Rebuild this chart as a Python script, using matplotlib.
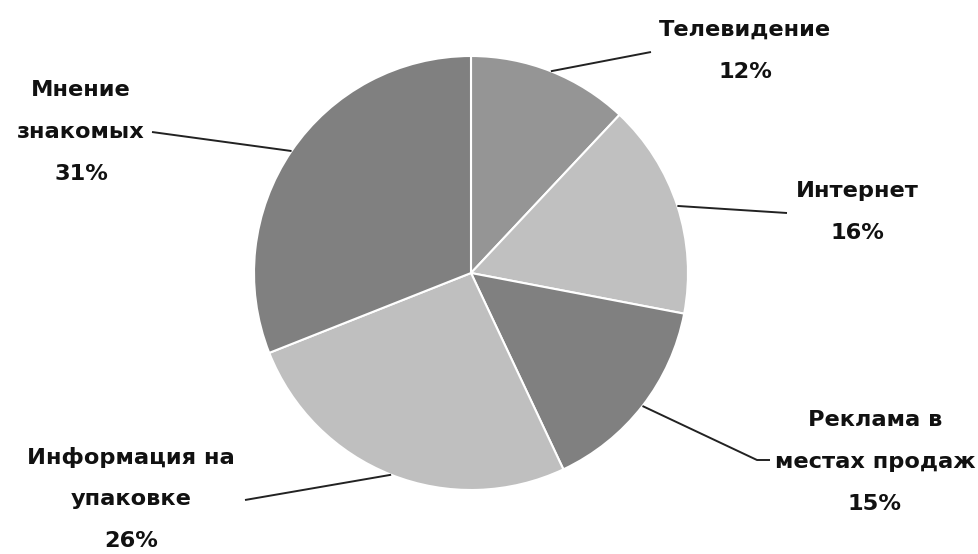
import numpy as np
import matplotlib.pyplot as plt

labels = ['Телевидение', 'Интернет', 'Реклама в\nместах продаж',
          'Информация на\nупаковке', 'Мнение\nзнакомых']
values = [12, 16, 15, 26, 31]
colors = ['#959595', '#c0c0c0', '#808080', '#bfbfbf', '#808080']

# layout in pixel coordinates (y measured from the bottom)
W, H = 979, 554
cx, cy, r = 471, H - 273, 217
text_pos = [(745, H - 51), (857, H - 212), (875, H - 462),
            (131, H - 499), (81, H - 132)]
line_end = [(651, H - 52), (787, H - 213), (770, H - 460),
            (245, H - 500), (152, H - 132)]
elbow = [None, None, (757, H - 460), None, None]
step = 42  # distance between text lines, px

fig = plt.figure(figsize=(W / 100, H / 100), dpi=100)
ax = fig.add_axes([0, 0, 1, 1])

wedges, _ = ax.pie(values, colors=colors, startangle=90, counterclock=False,
                   center=(cx, cy), radius=r, frame=True,
                   wedgeprops=dict(edgecolor='white', linewidth=1.5))
ax.set_xlim(0, W)
ax.set_ylim(0, H)
ax.set_aspect('equal')
ax.axis('off')

for i, w in enumerate(wedges):
    ang = np.deg2rad((w.theta1 + w.theta2) / 2)
    x0 = cx + r * np.cos(ang)
    y0 = cy + r * np.sin(ang)
    xs = [x0]
    ys = [y0]
    if elbow[i] is not None:
        xs.append(elbow[i][0])
        ys.append(elbow[i][1])
    xs.append(line_end[i][0])
    ys.append(line_end[i][1])
    ax.plot(xs, ys, color='#222222', lw=1.4, solid_capstyle='butt')

    rows = labels[i].split('\n') + [str(values[i]) + '%']
    top = text_pos[i][1] + step * (len(rows) - 1) / 2
    for k, row in enumerate(rows):
        ax.text(text_pos[i][0], top - k * step, row, ha='center', va='center',
                fontsize=16.2, fontweight='bold', family='DejaVu Sans',
                color='#111111')

fig.savefig('out.png', dpi=100)
